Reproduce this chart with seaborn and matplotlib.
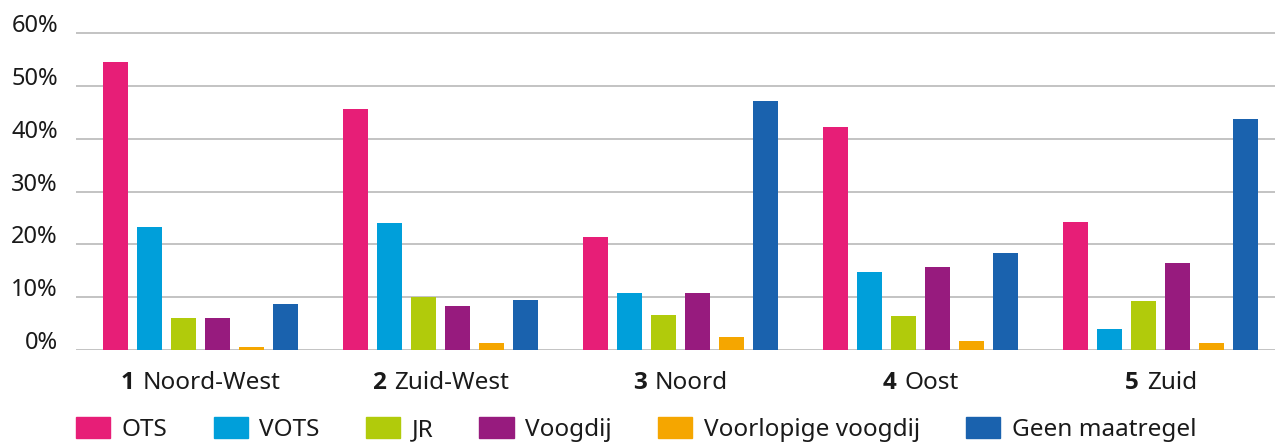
import pandas as pd
import matplotlib
matplotlib.use("Agg")
import matplotlib.pyplot as plt
import matplotlib.transforms as mtransforms
from matplotlib.offsetbox import AnnotationBbox, HPacker, TextArea
import seaborn as sns

# regio's en maatregelen (percentages)
nummers = ["1", "2", "3", "4", "5"]
regios = ["Noord-West", "Zuid-West", "Noord", "Oost", "Zuid"]
maatregelen = ["OTS", "VOTS", "JR", "Voogdij", "Voorlopige voogdij", "Geen maatregel"]

ots = [54.5, 45.6, 21.4, 42.2, 24.2]
vots = [23.3, 24.0, 10.8, 14.8, 4.0]
jr = [6.0, 10.0, 6.6, 6.4, 9.3]
voogdij = [6.0, 8.3, 10.8, 15.7, 16.5]
voorlopige_voogdij = [0.6, 1.3, 2.5, 1.7, 1.3]
geen_maatregel = [8.7, 9.5, 47.1, 18.4, 43.7]

kleuren = ["#E71E77", "#009FDA", "#B1CB0B", "#971B7E", "#F5A600", "#1A62AE"]

reeksen = [ots, vots, jr, voogdij, voorlopige_voogdij, geen_maatregel]
rijen = []
for m, waarden in zip(maatregelen, reeksen):
    for r, w in zip(regios, waarden):
        rijen.append({"regio": r, "maatregel": m, "pct": w})
df = pd.DataFrame(rijen)

sns.set_style("white")
plt.rcParams["font.family"] = ["Noto Sans", "DejaVu Sans"]
tekstkleur = "#1a1a1a"

fig = plt.figure(figsize=(12.75, 4.46), dpi=100)
ax = fig.add_axes([0.0596, 0.2152, 0.9404, 0.9318 - 0.2152])

sns.barplot(data=df, x="regio", y="pct", hue="maatregel", hue_order=maatregelen,
            order=regios, palette=kleuren, width=0.85, gap=0.265,
            saturation=1, linewidth=0, ax=ax, legend=False)

ax.set_xlim(-0.517, 4.475)
ax.set_ylim(0, 60.5)
ax.set_yticks(range(0, 61, 10))
ax.set_yticklabels([f"{v}%" for v in range(0, 61, 10)])
ax.yaxis.grid(True, color="#b3b3b3", linewidth=1.1)
ax.set_axisbelow(True)
for s in ax.spines.values():
    s.set_visible(False)
ax.tick_params(axis="y", length=0, pad=13, labelsize=17, labelcolor=tekstkleur)
ax.tick_params(axis="x", length=0, labelbottom=False)
ax.set_xlabel("")
ax.set_ylabel("")

# percentages staan op de rasterlijn (zoals in het origineel)
omhoog = mtransforms.ScaledTranslation(0, 1 / 100, fig.dpi_scale_trans)
for lab in ax.get_yticklabels():
    lab.set_verticalalignment("baseline")
    lab.set_transform(lab.get_transform() + omhoog)

# regiolabels: vet nummer + naam
for i, (n, r) in enumerate(zip(nummers, regios)):
    pak = HPacker(children=[
        TextArea(n, textprops=dict(fontsize=17.5, fontweight="bold", family="Open Sans",
                                   color=tekstkleur)),
        TextArea(r, textprops=dict(fontsize=17.5, color=tekstkleur)),
    ], sep=6, pad=0, align="baseline")
    ab = AnnotationBbox(pak, (i, 0), xycoords=ax.get_xaxis_transform(),
                        xybox=(0, -15), boxcoords="offset points",
                        box_alignment=(0.5, 1), frameon=False, pad=0)
    ax.add_artist(ab)

handles = [plt.Rectangle((0, 0), 1, 1, color=c) for c in kleuren]
fig.legend(handles, maatregelen, loc="center left", bbox_to_anchor=(0.0596, 0.037),
           ncol=6, frameon=False, fontsize=17.5, handlelength=1.4, handleheight=0.95,
           handletextpad=0.48, columnspacing=1.9, borderpad=0, borderaxespad=0,
           labelcolor=tekstkleur)

fig.savefig("out.png", dpi=100)
